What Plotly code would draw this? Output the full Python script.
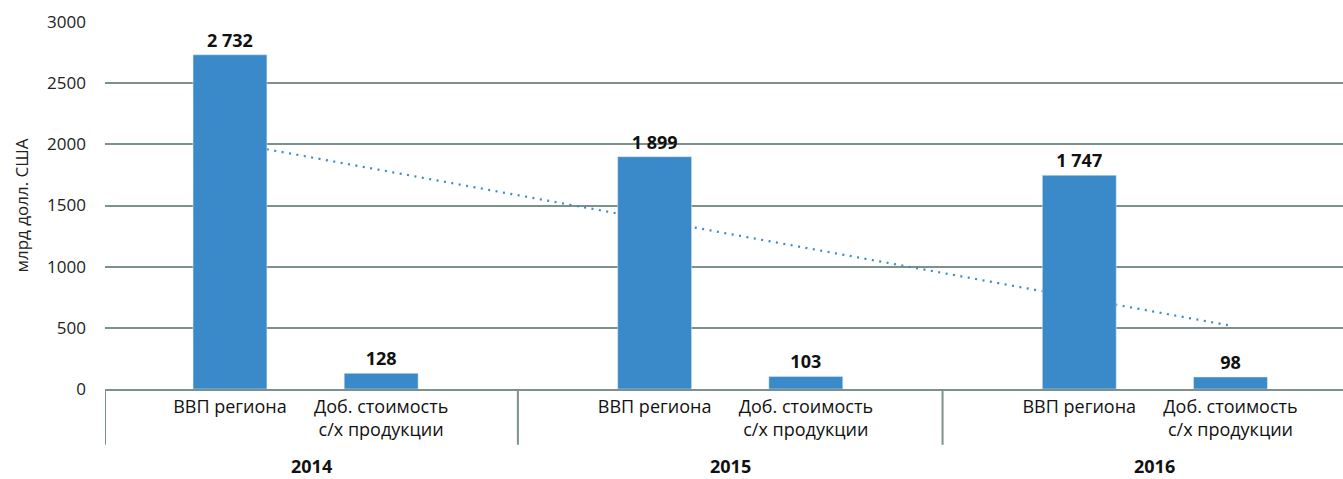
import plotly.graph_objects as go

# ---- data ----
years = ["2014", "2015", "2016"]
categories = ["ВВП региона", "Доб. стоимость<br>с/х продукции"]
gdp_values = [2732, 1899, 1747]
agri_values = [128, 103, 98]
value_labels_gdp = ["2 732", "1 899", "1 747"]
value_labels_agri = ["128", "103", "98"]
trend_values = [2015, 518]          # dotted trend line: at first and last bar
y_ticks = [0, 500, 1000, 1500, 2000, 2500, 3000]
y_title = "млрд долл. США"

# ---- layout helpers ----
BLUE = "#3A89C9"
GRID = "#7D918C"
FONT = "Open Sans"
offset = 0.178      # in-group offset of each bar from group centre
bar_w = 0.174
x_range = [-0.4723, 2.443]

x_gdp = [i - offset for i in range(len(years))]
x_agri = [i + offset for i in range(len(years))]

fig = go.Figure()
for xs, ys, labels in [(x_gdp, gdp_values, value_labels_gdp),
                       (x_agri, agri_values, value_labels_agri)]:
    fig.add_trace(go.Bar(
        x=xs, y=ys, width=bar_w, marker_color=BLUE,
        text=labels, textposition="outside", cliponaxis=False,
        textfont=dict(family=FONT, size=18, color="#111", weight="bold"),
        showlegend=False, hoverinfo="skip"))

# trend line behind bars
fig.add_shape(type="line", xref="x", yref="y",
              x0=x_gdp[0], y0=trend_values[0], x1=x_agri[-1], y1=trend_values[1],
              line=dict(color=BLUE, width=2.2, dash="2px,5.5px"), layer="between")

# group separators
bounds = [x_range[0]] + [i + 0.5 for i in range(len(years) - 1)]
for b in bounds:
    fig.add_shape(type="line", xref="x", yref="paper", x0=b, x1=b, y0=0, y1=-0.152,
                  line=dict(color=GRID, width=2), layer="above")

# year labels
edges = [x_range[0]] + [i + 0.5 for i in range(len(years) - 1)] + [len(years) - 0.5]
for i, yr in enumerate(years):
    fig.add_annotation(x=(edges[i] + edges[i + 1]) / 2, xref="x", y=0, yref="paper",
                       yanchor="bottom", yshift=-89, text=f"<b>{yr}</b>",
                       borderpad=0, borderwidth=0,
                       showarrow=False, font=dict(family=FONT, size=18, color="#111"))

tickvals = []
ticktext = []
for i in range(len(years)):
    tickvals += [x_gdp[i], x_agri[i]]
    ticktext += categories

fig.update_layout(
    width=1343, height=479,
    margin=dict(l=105, r=0, t=22, b=90),
    paper_bgcolor="white", plot_bgcolor="white",
    barmode="overlay",
    font=dict(family=FONT, size=18, color="#222"),
    xaxis=dict(range=x_range, tickvals=tickvals, ticktext=ticktext,
               showgrid=False, zeroline=False, showline=True, linecolor=GRID,
               linewidth=2, ticks="", tickfont=dict(family=FONT, size=18, color="#111"),
               layer="above traces"),
    yaxis=dict(range=[0, 3000], tickvals=y_ticks, showgrid=True, gridcolor=GRID,
               gridwidth=2, zeroline=False, showline=False, ticks="",
               ticklabelstandoff=18,
               tickfont=dict(family=FONT, size=17, color="#222"),
               title=dict(text=y_title, font=dict(family=FONT, size=17, color="#222"),
                          standoff=14)),
)

fig.write_html("out.html", config={"displayModeBar": False},
               post_script="document.body.style.margin='0';document.body.style.overflow='hidden';")
